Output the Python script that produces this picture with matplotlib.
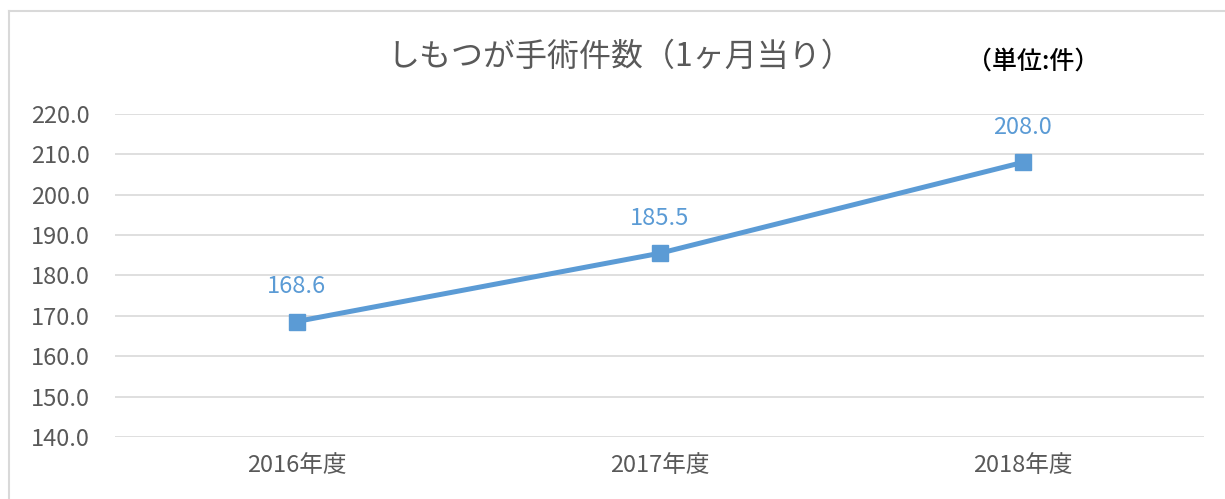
import matplotlib
matplotlib.use("Agg")
import matplotlib.pyplot as plt
from matplotlib.lines import Line2D

plt.rcParams['font.family'] = ['Noto Sans CJK JP', 'DejaVu Sans']

# data
years = ["2016年度", "2017年度", "2018年度"]
counts = [168.6, 185.5, 208.0]
yticks = [140, 150, 160, 170, 180, 190, 200, 210, 220]

blue = "#5B9BD5"
grey = "#595959"

fig = plt.figure(figsize=(12.25, 4.99), dpi=100)
ax = fig.add_axes([115/1225, 1 - 437/499, (1204 - 115)/1225, (437 - 114)/499])

x = list(range(len(years)))
ax.plot(x, counts, color=blue, lw=3.6, marker="s", markersize=11, zorder=3)

for xi, v in zip(x, counts):
    ax.annotate(f"{v:.1f}", (xi, v), xytext=(0, 25), textcoords="offset points",
                ha="center", va="center", color=blue, fontsize=17)

ax.set_xlim(-0.5, 2.5)
ax.set_ylim(140, 220)
ax.set_yticks(yticks)
ax.set_yticklabels([f"{t:.1f}" for t in yticks])
ax.set_xticks(x)
ax.set_xticklabels(years)
ax.grid(axis="y", color="#D9D9D9", lw=1.2)
ax.set_axisbelow(True)
for s in ax.spines.values():
    s.set_visible(False)
ax.tick_params(length=0, labelsize=17, colors=grey)
ax.tick_params(axis="y", pad=18)
ax.tick_params(axis="x", pad=12)

fig.text(620/1225, 1 - 57/499, "しもつが手術件数（1ヶ月当り）", ha="center", va="center",
         fontsize=23, color=grey)
fig.text(1033/1225, 1 - 62/499, "（単位:件）", ha="center", va="center",
         fontsize=18, color="black", fontweight="medium")

# frame lines (top and left)
fig.add_artist(Line2D([9/1225, 1], [1 - 11/499, 1 - 11/499], color="#D9D9D9", lw=1.5,
                      transform=fig.transFigure))
fig.add_artist(Line2D([9/1225, 9/1225], [0, 1 - 11/499], color="#D9D9D9", lw=1.5,
                      transform=fig.transFigure))

fig.savefig("out.png", dpi=100, facecolor="white")
